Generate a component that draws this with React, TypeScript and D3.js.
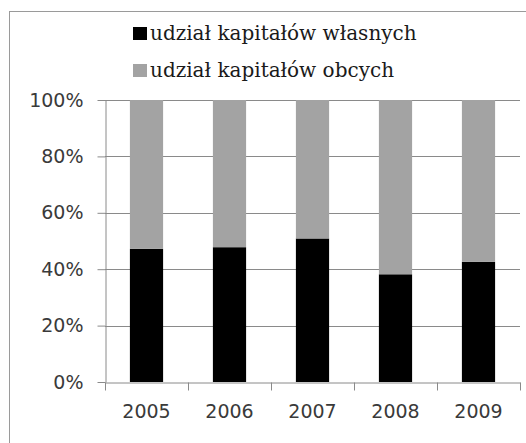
import { useEffect, useRef } from "react";
import * as d3 from "d3";

const years = ["2005", "2006", "2007", "2008", "2009"];
const wlasne = [0.472, 0.478, 0.509, 0.382, 0.426];
const obce = [0.528, 0.522, 0.491, 0.618, 0.574];
const seriesNames = ["udział kapitałów własnych", "udział kapitałów obcych"];
const seriesColors = ["#000000", "#a3a3a3"];
const yTicks = [0, 0.2, 0.4, 0.6, 0.8, 1];

const App = () => {
  const chartRef = useRef(null);

  useEffect(() => {
    if (!chartRef.current) return;
    const svg = d3.select(chartRef.current);
    svg.selectAll("*").remove();

    const width = 526;
    const height = 443;
    const margin = { top: 100, right: 6, bottom: 61, left: 105 };

    svg.attr("viewBox", [0, 0, width, height] as any);

    // outer frame (cropped on right/bottom)
    svg
      .append("rect")
      .attr("x", 9.5)
      .attr("y", 11.5)
      .attr("width", 600)
      .attr("height", 600)
      .attr("fill", "#fff")
      .attr("stroke", "#9a9a9a");

    const x = d3
      .scaleBand()
      .domain(years)
      .range([margin.left, width - margin.right])
      .paddingInner(0.6)
      .paddingOuter(0.3);
    const y = d3
      .scaleLinear()
      .domain([0, 1])
      .range([height - margin.bottom, margin.top]);

    // gridlines
    svg
      .append("g")
      .selectAll("line")
      .data(yTicks.slice(1))
      .join("line")
      .attr("x1", margin.left)
      .attr("x2", width - margin.right)
      .attr("y1", (d) => Math.round(y(d)) + 0.5)
      .attr("y2", (d) => Math.round(y(d)) + 0.5)
      .attr("stroke", "#8a8a8a");

    const stack = d3.stack<any>().keys(["w", "o"]);
    const table = years.map((yr, i) => ({ year: yr, w: wlasne[i], o: obce[i] }));
    const layers = stack(table);

    svg
      .append("g")
      .selectAll("g")
      .data(layers)
      .join("g")
      .attr("fill", (_d, i) => seriesColors[i])
      .selectAll("rect")
      .data((d) => d)
      .join("rect")
      .attr("x", (d: any) => x(d.data.year) as number)
      .attr("width", x.bandwidth())
      .attr("y", (d) => y(d[1]))
      .attr("height", (d) => y(d[0]) - y(d[1]));

    // y axis
    const gy = svg
      .append("g")
      .attr("transform", `translate(${margin.left + 0.5},0)`)
      .call(
        d3
          .axisLeft(y)
          .tickValues(yTicks)
          .tickFormat(d3.format(".0%") as any)
          .tickSize(8)
          .tickPadding(14)
          .tickSizeOuter(0)
      );
    gy.select(".domain").attr("stroke", "#8a8a8a");
    gy.selectAll(".tick line").attr("stroke", "#8a8a8a");
    gy.selectAll(".tick text")
      .attr("font-family", "DejaVu Sans")
      .attr("font-size", 19)
      .attr("fill", "#3a3a3a");

    // x axis
    const gx = svg
      .append("g")
      .attr("transform", `translate(0,${height - margin.bottom + 0.5})`)
      .call(d3.axisBottom(x).tickSize(0).tickPadding(22));
    gx.select(".domain").attr("stroke", "#8a8a8a");
    gx.selectAll(".tick text")
      .attr("font-family", "DejaVu Sans")
      .attr("font-size", 19)
      .attr("fill", "#3a3a3a");
    const bounds = years.map((yr) => (x(yr) as number) - (x.step() * x.paddingInner()) / 2);
    bounds.push(width - margin.right);
    gx.append("g")
      .selectAll("line")
      .data(bounds)
      .join("line")
      .attr("x1", (d) => Math.round(d) + 0.5)
      .attr("x2", (d) => Math.round(d) + 0.5)
      .attr("y1", 0)
      .attr("y2", 8)
      .attr("stroke", "#8a8a8a");

    // legend
    const legend = svg
      .append("g")
      .selectAll("g")
      .data(seriesNames)
      .join("g")
      .attr("transform", (_d, i) => `translate(133,${27 + i * 37})`);
    legend
      .append("rect")
      .attr("width", 14)
      .attr("height", 13)
      .attr("fill", (_d, i) => seriesColors[i]);
    legend
      .append("text")
      .attr("x", 17)
      .attr("y", 13)
      .attr("font-family", "DejaVu Serif")
      .attr("font-size", 20)
      .attr("fill", "#1a1a1a")
      .text((d) => d);
  }, []);

  return (
    <svg
      ref={chartRef}
      width={526}
      height={443}
      style={{ position: "absolute", left: 0, top: 0, background: "#fff" }}
    ></svg>
  );
};

export default App;
